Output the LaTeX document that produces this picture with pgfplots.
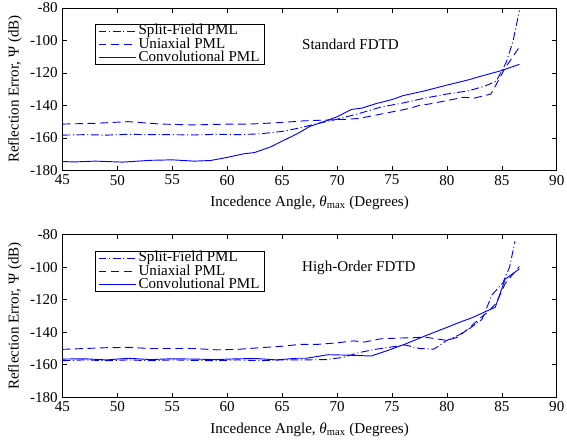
\documentclass[border=0pt]{standalone}
\usepackage{fontspec}
\setmainfont{Liberation Serif}
\usepackage{pgfplots}
\pgfplotsset{compat=1.18}
\definecolor{pblue}{RGB}{0,0,255}
\pgfplotsset{
  myax/.style={
    scale only axis, width=374.25pt, height=123pt,
    xmin=45, xmax=90, ymin=-180, ymax=-80,
    xtick={45,50,...,90},
    ytick={-180,-160,-140,-120,-100,-80},
    yticklabels={{-180},{-160},{-140},{-120},{-100},{-80}},
    tick align=inside, major tick length=3.5pt,
    tick style={black, line width=0.5pt},
    axis line style={line width=0.6pt},
    /pgf/number format/assume math mode=true,
    tick label style={font=\fontsize{11.4}{13}\selectfont},
    label style={font=\fontsize{11.4}{13}\selectfont},
    xlabel={Incedence Angle, \textit{θ}\textsubscript{max} (Degrees)},
    ylabel={Reflection Error, Ψ (dB)},
    xlabel style={at={(axis description cs:0.5,-0.22)}, anchor=base},
    ylabel style={at={(axis description cs:-0.096,0.5)}, anchor=center},
    legend style={at={(0.066,0.902)}, anchor=north west, draw=black, line width=0.6pt,
      font=\fontsize{11.4}{11}\selectfont, inner xsep=2pt, inner ysep=0.3pt, row sep=0pt,
      nodes={inner xsep=2pt, inner ysep=0pt, text height=7.8pt, text depth=2.2pt}},
    legend cell align=left,
    legend image code/.code={\draw[pblue,#1] (0pt,0pt) -- (28pt,0pt);},
  },
  sf/.style={pblue, line width=0.7pt, dash pattern=on 6pt off 2pt on 0.8pt off 2pt},
  ua/.style={pblue, line width=0.7pt, dash pattern=on 6pt off 3.5pt},
  cv/.style={pblue, line width=0.7pt},
}
\begin{document}
\begin{tikzpicture}
\begin{axis}[myax, name=top]
\addplot[sf] coordinates {(45,-158.3) (47,-158) (49,-158.3) (51,-157.8) (53,-158) (55,-158) (57,-158.2) (59,-157.8) (61,-158) (63,-157.5) (65,-156) (66.5,-154) (68,-151.5) (70,-148.5) (72,-145) (74,-141) (76,-138.5) (78,-135.5) (80,-133) (82,-131) (83.5,-128) (84.5,-125) (85.4,-113.5) (86,-101) (86.6,-81.6)};
\addlegendentry{Split-Field PML}
\addplot[ua] coordinates {(45,-151.5) (48,-151) (51,-150) (54,-151.5) (57,-152) (60,-151.5) (62,-151.5) (65,-150.5) (67,-149.5) (69,-149) (71,-148.5) (72,-148) (73.5,-146) (75,-144) (76.5,-142) (77.5,-140) (78.5,-139) (80,-137) (81.5,-135) (82.5,-135.5) (84,-133) (84.5,-127) (85.3,-117) (86.6,-104)};
\addlegendentry{Uniaxial PML}
\addplot[cv] coordinates {(45,-174.5) (46,-174.8) (48,-174.3) (50.5,-174.9) (53,-173.8) (55,-173.5) (57,-174.3) (58.5,-173.9) (60,-172) (61.5,-169.8) (62.5,-169) (64,-165.4) (65,-162) (66.5,-157) (67.5,-153) (69,-149.5) (70,-147) (71.3,-142.5) (72.3,-141.6) (73.5,-139) (75,-136.4) (76,-134) (78,-131) (80,-127.5) (82,-124.2) (83,-122.2) (85,-118.5) (86.6,-114.7)};
\addlegendentry{Convolutional PML}
\node[anchor=west, font=\fontsize{11.4}{13}\selectfont] at (axis cs:66.4,-102.4) {Standard FDTD};
\end{axis}
\begin{axis}[myax, yshift=-171.75pt]
\addplot[sf] coordinates {(45,-157.5) (47,-157) (49,-157.5) (51,-157) (53,-157.5) (55,-157) (57,-157.3) (59,-157.5) (61,-157) (63,-157.5) (65,-157) (67,-157) (69,-156.8) (70.5,-155.5) (72,-152.5) (73.5,-150.5) (75,-149) (76.2,-147.8) (77.5,-150) (78.8,-150.4) (80,-145) (81,-142) (82,-138) (83.2,-132) (84.1,-117) (85.1,-109.5) (85.7,-100) (86.2,-84)};
\addlegendentry{Split-Field PML}
\addplot[ua] coordinates {(45,-150.5) (47,-150) (49,-149.5) (51,-149.3) (53,-150) (55,-150) (57,-150) (59,-150.8) (61,-150.5) (63,-149.5) (65,-148.6) (66.7,-147.4) (68.3,-147.4) (70,-146.5) (71.5,-145.3) (72.5,-146) (74,-144) (76,-143.5) (78,-143) (80,-145) (81,-143) (82,-137.5) (83,-131.5) (83.8,-127) (84.5,-122) (85.3,-110) (86.6,-99.5)};
\addlegendentry{Uniaxial PML}
\addplot[cv] coordinates {(45,-156.5) (47,-156.3) (49,-157) (51,-156) (53,-156.8) (55,-156.3) (57,-156.5) (59,-156.8) (61,-156.3) (62.7,-156.2) (64.5,-157) (66.3,-156) (67.2,-156) (69.2,-153.8) (71.1,-154.1) (73.1,-154.6) (74.7,-151) (76.3,-147) (78.1,-142) (80,-137) (81.1,-134) (82.3,-131) (84.4,-124.6) (85.3,-107.3) (86.6,-101)};
\addlegendentry{Convolutional PML}
\node[anchor=west, font=\fontsize{11.4}{13}\selectfont] at (axis cs:66.4,-100.2) {High-Order FDTD};
\end{axis}
\pgfresetboundingbox
\path (-47.25pt,-206.25pt) rectangle (382pt,129pt);
\end{tikzpicture}
\end{document}
